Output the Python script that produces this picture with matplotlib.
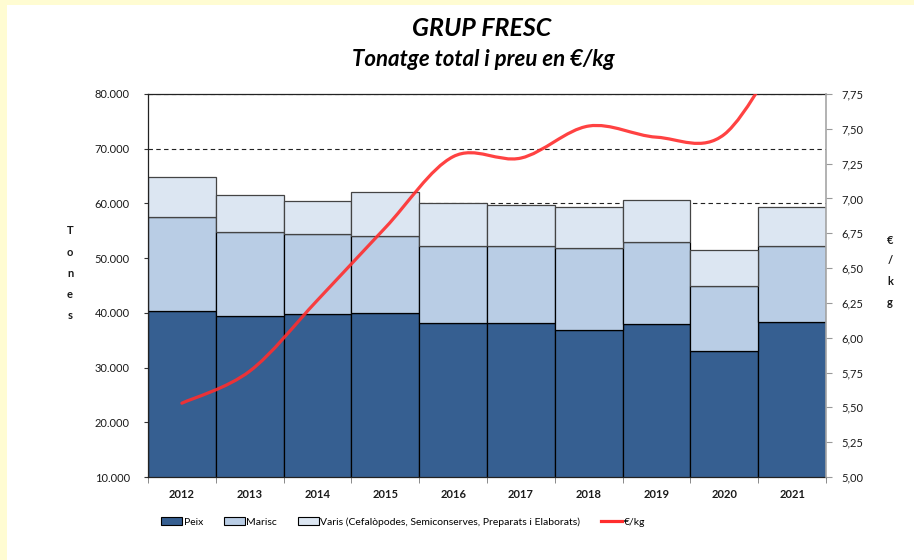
import numpy as np
import matplotlib
matplotlib.use('Agg')
import matplotlib.pyplot as plt
import matplotlib.patches as mpatches
from matplotlib.path import Path
from matplotlib.lines import Line2D
from matplotlib.ticker import FuncFormatter, FixedLocator

plt.rcParams['font.family'] = ['Lato', 'DejaVu Sans']

# ── Data ──────────────────────────────────────────────────────────────────────
years  = ['2012', '2013', '2014', '2015', '2016', '2017', '2018', '2019', '2020', '2021']
peix   = [40300, 39500, 39700, 39900, 38100, 38100, 36900, 37900, 33000, 38300]
marisc = [17300, 15200, 14700, 14100, 14200, 14100, 14900, 15000, 12000, 13900]
varis  = [7200, 6800, 6000, 8000, 7800, 7600, 7500, 7800, 6500, 7100]
preu   = [5.53, 5.76, 6.27, 6.79, 7.30, 7.29, 7.52, 7.44, 7.46, 8.20]

c_peix, c_marisc, c_varis = '#365f91', '#b9cde5', '#dce6f2'
c_line = '#ff2d2d'

fig = plt.figure(figsize=(9.14, 5.6), dpi=100, facecolor='#fffcd2')
# white card inside the pale yellow frame
fig.patches.append(mpatches.Rectangle((7 / 914, 0), 1, 1 - 5 / 560, transform=fig.transFigure,
                                      facecolor='white', edgecolor='none', zorder=-5))

ax = fig.add_axes([148 / 914, 83 / 560, 678 / 914, 383 / 560])
ax.set_zorder(1)
x = np.arange(len(years))
bottom2 = np.array(peix) + np.array(marisc)
ax.bar(x, peix, width=1.0, color=c_peix, edgecolor='black', linewidth=0.9, zorder=2)
ax.bar(x, marisc, width=1.0, bottom=peix, color=c_marisc, edgecolor='black', linewidth=0.9, zorder=2)
ax.bar(x, varis, width=1.0, bottom=bottom2, color=c_varis, edgecolor='#444444', linewidth=0.9, zorder=2)

ax.set_xlim(-0.5, len(years) - 0.5)
ax.set_ylim(10000, 80000)
ax.set_yticks(np.arange(10000, 80001, 10000))
ax.yaxis.set_major_formatter(FuncFormatter(lambda v, p: f'{int(v):,}'.replace(',', '.')))
ax.yaxis.grid(True, color='#222222', linestyle=(0, (4, 3)), linewidth=0.8, zorder=0)
ax.set_axisbelow(True)

ax.set_xticks(x)
ax.set_xticklabels(years, fontweight='bold')
ax.xaxis.set_minor_locator(FixedLocator(np.arange(-0.5, len(years), 1.0)))
ax.tick_params(axis='x', which='major', length=0, pad=9, labelsize=8, labelcolor='#1a1a1a')
ax.tick_params(axis='x', which='minor', length=4, color='#777777', direction='out')
ax.tick_params(axis='y', length=3, pad=10, labelsize=8, labelcolor='#1a1a1a', color='#333333')
for s in ['left', 'top', 'bottom']:
    ax.spines[s].set_color('#222222')
    ax.spines[s].set_linewidth(0.9)
ax.spines['right'].set_visible(False)

ax2 = ax.twinx()
ax2.set_zorder(2)
ax2.patch.set_visible(False)
ax2.set_ylim(5.0, 7.75)
ax2.set_yticks(np.arange(5.0, 7.76, 0.25))
ax2.yaxis.set_major_formatter(FuncFormatter(lambda v, p: f'{v:.2f}'.replace('.', ',')))
ax2.tick_params(axis='y', length=4, pad=7, labelsize=8, labelcolor='#1a1a1a', color='#999999')
ax2.spines['right'].set_color('#a6a6a6')
ax2.spines['right'].set_linewidth(1.2)
for s in ['left', 'top', 'bottom']:
    ax2.spines[s].set_visible(False)

# smoothed price line (Bezier segments through the yearly values, like Excel's smooth line)
pts = np.column_stack([x, preu]).astype(float)
ext = np.vstack([pts[0], pts, pts[-1]])
verts = [tuple(pts[0])]
codes = [Path.MOVETO]
for i in range(len(pts) - 1):
    p0, p1, p2, p3 = ext[i], ext[i + 1], ext[i + 2], ext[i + 3]
    verts += [tuple(p1 + (p2 - p0) / 6), tuple(p2 - (p3 - p1) / 6), tuple(p2)]
    codes += [Path.CURVE4] * 3
ax2.add_patch(mpatches.PathPatch(Path(verts, codes), fill=False, edgecolor=c_line,
                                 linewidth=2.3, alpha=0.9, zorder=5, capstyle='round'))

# stacked axis titles
for i, ch in enumerate('Tones'):
    fig.text(70 / 914, 1 - (231 + 21.2 * i) / 560, ch, ha='center', va='center',
             fontsize=8, fontweight='bold', color='#1a1a1a')
for i, ch in enumerate('€/kg'):
    fig.text(890 / 914, 1 - (240 + 20.7 * i) / 560, ch, ha='center', va='center',
             fontsize=8, fontweight='bold', color='#1a1a1a')

fig.text(482 / 914, 1 - 29 / 560, 'GRUP FRESC', ha='center', va='center',
         fontsize=18, fontweight='bold', fontstyle='italic', color='black')
fig.text(483 / 914, 1 - 60 / 560, 'Tonatge total i preu en €/kg', ha='center', va='center',
         fontsize=16, fontweight='bold', fontstyle='italic', color='black')

handles = [
    mpatches.Patch(facecolor=c_peix, edgecolor='black', linewidth=0.8, label='Peix'),
    mpatches.Patch(facecolor=c_marisc, edgecolor='black', linewidth=0.8, label='Marisc'),
    mpatches.Patch(facecolor=c_varis, edgecolor='black', linewidth=0.8,
                   label='Varis (Cefalòpodes, Semiconserves, Preparats i Elaborats)'),
    Line2D([0], [0], color=c_line, linewidth=2.3, label='€/kg'),
]
fig.legend(handles=handles, loc='center left', bbox_to_anchor=(154 / 914, 1 - 522 / 560),
           ncol=4, frameon=False, fontsize=7.5, handlelength=2.0, handleheight=0.8,
           handletextpad=0.15, columnspacing=2.0, borderpad=0.2)

fig.savefig('out.png', dpi=100, facecolor=fig.get_facecolor())
